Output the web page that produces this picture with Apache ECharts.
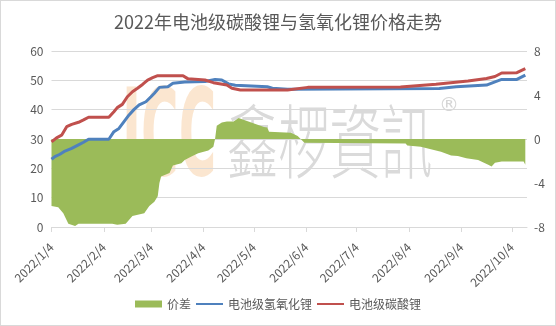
<!DOCTYPE html>
<html><head><meta charset="utf-8">
<script src="https://cdn.jsdelivr.net/npm/echarts@6/dist/echarts.min.js"></script>
<style>html,body{margin:0;padding:0;background:#fff}#c{width:556px;height:326px}#b{position:absolute;left:0;top:0;width:556px;height:326px;box-sizing:border-box;border:1px solid #d9d9d9;pointer-events:none}</style>
</head><body><div id="c"></div><div id="b"></div>
<script>
const titleText = '2022年电池级碳酸锂与氢氧化锂价格走势';
const seriesNames = ['价差', '电池级氢氧化锂', '电池级碳酸锂'];
const tickLabels = ['2022/1/4','2022/2/4','2022/3/4','2022/4/4','2022/5/4','2022/6/4','2022/7/4','2022/8/4','2022/9/4','2022/10/4'];
const xRange = ['2022-01-04', '2022-10-13'];
const leftAxis = {min: 0, max: 60, interval: 10};
const rightAxis = {min: -8, max: 8, interval: 4};

const hydroxide = [
 ['2022-01-04',23.1],['2022-01-06',24.0],['2022-01-09',24.8],['2022-01-12',25.9],['2022-01-16',26.8],
 ['2022-01-20',28.0],['2022-01-23',28.9],['2022-01-26',29.9],['2022-02-07',29.9],['2022-02-10',32.5],
 ['2022-02-13',33.6],['2022-02-16',35.9],['2022-02-19',38.2],['2022-02-22',40.1],['2022-02-25',41.6],
 ['2022-03-01',42.7],['2022-03-04',44.4],['2022-03-06',45.6],['2022-03-09',47.6],['2022-03-14',47.8],
 ['2022-03-17',49.0],['2022-03-24',49.4],['2022-04-05',49.6],['2022-04-11',50.3],['2022-04-15',50.1],
 ['2022-04-19',48.8],['2022-04-23',48.3],['2022-05-12',47.8],['2022-05-15',47.3],['2022-05-24',47.0],
 ['2022-08-22',47.2],['2022-09-01',47.8],['2022-09-19',48.4],['2022-09-24',49.5],['2022-09-28',50.3],
 ['2022-10-07',50.3],['2022-10-12',51.8]
];
const carbonate = [
 ['2022-01-04',29.0],['2022-01-07',30.4],['2022-01-10',31.3],['2022-01-13',34.2],['2022-01-16',35.0],
 ['2022-01-20',35.7],['2022-01-23',36.5],['2022-01-26',37.4],['2022-02-07',37.4],['2022-02-10',39.3],
 ['2022-02-12',40.7],['2022-02-15',41.8],['2022-02-18',44.4],['2022-02-21',46.1],['2022-02-24',47.3],
 ['2022-02-27',48.6],['2022-03-02',50.1],['2022-03-05',50.9],['2022-03-08',51.6],['2022-03-23',51.6],
 ['2022-03-26',50.5],['2022-04-05',50.1],['2022-04-10',49.2],['2022-04-18',48.4],['2022-04-21',47.3],
 ['2022-04-26',46.7],['2022-05-24',46.7],['2022-06-05',47.6],['2022-07-30',47.7],['2022-08-20',48.7],
 ['2022-09-08',49.8],['2022-09-19',50.6],['2022-09-24',51.3],['2022-09-28',52.5],['2022-10-07',52.6],
 ['2022-10-12',54.0]
];
const spread = [
 ['2022-01-04',-6.1],['2022-01-08',-6.2],['2022-01-11',-6.75],['2022-01-14',-7.7],['2022-01-18',-7.9],
 ['2022-01-20',-7.7],['2022-02-09',-7.7],['2022-02-12',-7.8],['2022-02-17',-7.7],['2022-02-21',-7.0],
 ['2022-02-28',-6.75],['2022-03-03',-6.1],['2022-03-06',-5.7],['2022-03-08',-5.2],['2022-03-09',-4.0],
 ['2022-03-10',-3.4],['2022-03-15',-3.1],['2022-03-17',-2.4],['2022-03-22',-2.2],['2022-03-24',-1.9],
 ['2022-03-28',-1.6],['2022-04-01',-1.3],['2022-04-07',-1.05],['2022-04-10',-0.7],['2022-04-11',0.0],
 ['2022-04-12',1.2],['2022-04-15',1.5],['2022-04-18',1.6],['2022-04-22',1.6],['2022-04-25',1.9],
 ['2022-04-27',1.8],['2022-05-10',1.1],['2022-05-12',1.05],['2022-05-13',0.66],['2022-05-26',0.57],
 ['2022-05-30',0.27],['2022-06-03',-0.35],['2022-08-02',-0.4],['2022-08-03',-0.6],['2022-08-11',-0.7],
 ['2022-08-23',-1.15],['2022-08-29',-1.5],['2022-09-02',-1.55],['2022-09-07',-1.75],['2022-09-14',-1.9],
 ['2022-09-20',-2.35],['2022-09-22',-2.5],['2022-09-24',-2.15],['2022-09-28',-2.05],['2022-10-11',-2.05],
 ['2022-10-12',-2.35]
];

const toTime = s => { const p = s.split(/[-\/]/).map(Number); return new Date(p[0], p[1]-1, p[2]).getTime(); };
const tickValues = tickLabels.map(toTime);
const fmt = v => { const d = new Date(v); return d.getFullYear() + '/' + (d.getMonth()+1) + '/' + d.getDate(); };
const conv = arr => arr.map(p => [toTime(p[0]), p[1]]);

const FONT = '"Noto Sans CJK SC", "Noto Sans", sans-serif';
const GREY = '#595959';
const chart = echarts.init(document.getElementById('c'), null, {renderer: 'canvas'});
chart.setOption({
  backgroundColor: '#fff',
  animation: false,
  textStyle: {fontFamily: FONT},
  title: {text: titleText, left: 'center', top: 13, padding: 0,
    textStyle: {fontSize: 18, fontWeight: 'normal', color: GREY, fontFamily: FONT}},
  graphic: [
    {type: 'text', z: -10, x: 122, y: 143, scaleX: 0.42, scaleY: 1.0,
      style: {text: 'ICC', fill: '#FBE6D0', font: 'bold 122px "DejaVu Sans"', textAlign: 'left', textVerticalAlign: 'middle'}},
    {type: 'text', z: -10, x: 227, y: 141, scaleX: 0.95, scaleY: 1.5,
      style: {text: '鑫椤資訊', fill: '#DADADA', font: '300 54px "Noto Sans CJK TC"', textAlign: 'left', textVerticalAlign: 'middle'}},
    {type: 'text', z: -10, x: 439, y: 96,
      style: {text: '®', fill: '#D6D6D6', font: '20px "DejaVu Sans"', textAlign: 'left', textVerticalAlign: 'top'}}
  ],
  legend: {
    top: 298, left: 'center', padding: 0, itemGap: 4, itemWidth: 27, itemHeight: 7,
    textStyle: {fontSize: 12, color: GREY, fontFamily: FONT},
    data: [{name: seriesNames[0], icon: 'rect'},
           {name: seriesNames[1], itemStyle: {opacity: 0}},
           {name: seriesNames[2], itemStyle: {opacity: 0}}]
  },
  grid: {left: 51.5, right: 29, top: 51, bottom: 99, containLabel: false},
  xAxis: {
    type: 'value', min: toTime(xRange[0]), max: toTime(xRange[1]),
    axisLine: {onZero: false, lineStyle: {color: '#D9D9D9', width: 1}},
    axisTick: {show: true, length: 5, customValues: tickValues, lineStyle: {color: '#D9D9D9'}},
    axisLabel: {customValues: tickValues, formatter: fmt, rotate: 45, margin: 18, color: GREY, fontSize: 12, fontFamily: FONT},
    splitLine: {show: false}
  },
  yAxis: [
    {type: 'value', min: leftAxis.min, max: leftAxis.max, interval: leftAxis.interval,
      axisLine: {show: false}, axisTick: {show: false},
      axisLabel: {color: GREY, fontSize: 12, margin: 8, fontFamily: FONT},
      splitLine: {lineStyle: {color: '#D9D9D9', width: 1}}},
    {type: 'value', min: rightAxis.min, max: rightAxis.max, interval: rightAxis.interval,
      axisLine: {show: false}, axisTick: {show: false},
      axisLabel: {color: GREY, fontSize: 12, margin: 7, fontFamily: FONT},
      splitLine: {show: false}}
  ],
  series: [
    {name: seriesNames[0], type: 'line', yAxisIndex: 1, data: conv(spread), symbol: 'none', z: 1,
      lineStyle: {width: 0}, itemStyle: {color: '#9BBB59'}, areaStyle: {color: '#9BBB59', opacity: 1, origin: 0}},
    {name: seriesNames[1], type: 'line', yAxisIndex: 0, data: conv(hydroxide), symbol: 'none', z: 3,
      lineStyle: {width: 3, color: '#4F81BD'}, itemStyle: {color: '#4F81BD'}},
    {name: seriesNames[2], type: 'line', yAxisIndex: 0, data: conv(carbonate), symbol: 'none', z: 4,
      lineStyle: {width: 3, color: '#C0504D'}, itemStyle: {color: '#C0504D'}}
  ]
});
</script></body></html>
